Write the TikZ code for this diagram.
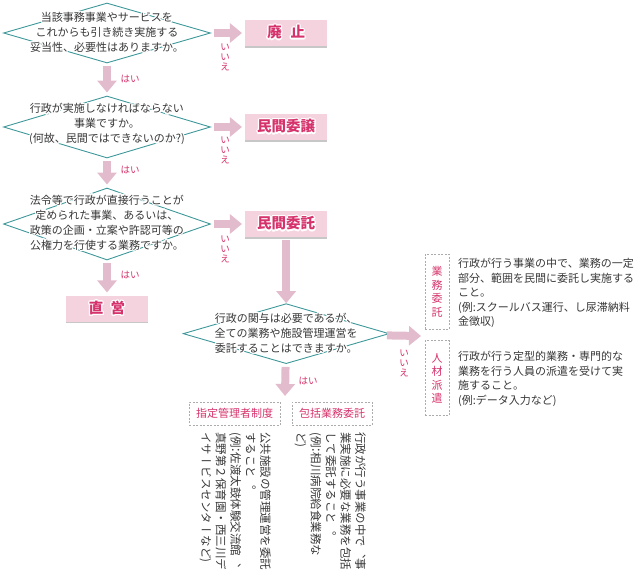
\documentclass[tikz,border=0pt]{standalone}
\usepackage{fontspec}
\setmainfont{Noto Sans CJK JP}
\newfontfamily\vjp[Vertical=RotatedGlyphs]{Noto Sans CJK JP}
\usepackage{contour}
\contourlength{1.2pt}
\usetikzlibrary{shapes.geometric,arrows.meta,positioning,shadows}
\definecolor{rose}{RGB}{214,51,108}
\definecolor{rosebox}{RGB}{245,211,222}
\definecolor{rosearr}{RGB}{226,188,204}
\definecolor{tealline}{RGB}{62,152,154}
\definecolor{ink}{RGB}{55,55,55}
\newcommand{\halo}[1]{\contour{white}{#1}}
\newcommand{\vcolon}{\hspace{-0.3em}：\hspace{-0.25em}}

\begin{document}
\begin{tikzpicture}[x=1pt, y=-1pt,
    question/.style={diamond, draw=tealline, line width=0.9pt, inner sep=0pt,
                     minimum width=207pt},
    qtext/.style={align=center, inner sep=0pt, text=ink,
                  font=\fontsize{11}{15}\selectfont},
    result/.style={fill=rosebox, minimum width=82pt, minimum height=26pt,
                   inner sep=0pt, text=rose, font=\fontsize{14.5}{16}\selectfont\bfseries,
                   drop shadow={shadow xshift=0pt, shadow yshift=-1.5pt, fill=black!22, opacity=1}},
    arr/.style={-{Triangle[width=19pt, length=12pt]}, rosearr, line width=8pt,
                shorten <=3pt, shorten >=3pt},
    yn/.style={text=rose, align=center, inner sep=0pt,
               font=\fontsize{9.5}{10}\selectfont},
    tagbox/.style={draw=gray!65, dash pattern=on 2pt off 1.5pt, line width=0.8pt,
                   text=rose, inner sep=0pt, font=\fontsize{11}{13.5}\selectfont},
    para/.style={align=left, anchor=north west, inner sep=0pt, text=ink,
                 font=\fontsize{11}{14.5}\selectfont},
    vpara/.style={rotate=-90, anchor=north west, align=left, inner sep=0pt, text=ink,
                  font=\vjp\fontsize{11.5}{14.8}\selectfont},
  ]
  \useasboundingbox (0,0) rectangle (638,574);

  \node[question, minimum height=60pt] (q1) at (107,33) {};
  \node[qtext] (t1) at (q1) {\halo{当該事務事業やサービスを}\\\halo{これからも引き続き実施する}\\\halo{妥当性、必要性はありますか。}};
  \node[result, right=34pt of q1] (haishi) {\halo{廃\hspace{0.6em}止}};

  \node[question, minimum height=62pt] (q2) at (107,127) {};
  \node[qtext] (t2) at (107,125) {\halo{行政が実施しなければならない}\\\halo{事業ですか。}\\\halo{(何故、民間ではできないのか?)}};
  \node[result, right=34pt of q2] (jouto) {\halo{民間委譲}};

  \node[question, minimum height=72pt] (q3) at (107,224) {};
  \node[qtext] (t3) at (107,223) {\halo{法令等で行政が直接行うことが}\\\halo{定められた事業、あるいは、}\\\halo{政策の企画・立案や許認可等の}\\\halo{公権力を行使する業務ですか。}};
  \node[result, right=34pt of q3] (itaku) {\halo{民間委託}};
  \node[result, below=35pt of q3] (chokuei) {\halo{直\hspace{0.5em}営}};

  \node[question, minimum width=206pt, minimum height=60pt, below=66pt of itaku] (q4) {};
  \node[qtext] (t4) at (q4) {\halo{行政の関与は必要であるが、}\\\halo{全ての業務や施設管理運営を}\\\halo{委託することはできますか。}};

  \coordinate (sideR) at (421,336);
  \coordinate (downB) at (285,396);

  \draw[arr] (q1) -- (haishi);
  \draw[arr] (q2) -- (jouto);
  \draw[arr] (q3) -- (itaku);
  \draw[arr] (q1) -- (q2);
  \draw[arr] (q2) -- (q3);
  \draw[arr] (q3) -- (chokuei);
  \draw[arr, shorten >=0pt] (itaku) -- (q4);
  \draw[arr, shorten >=0pt] (q4) -- (sideR);
  \draw[arr, shorten >=0pt] (q4) -- (downB);

  \node[yn] (no1) at (225,57) {い\\い\\え};
  \node[yn] (no2) at (225,150) {い\\い\\え};
  \node[yn] (no3) at (225,249) {い\\い\\え};
  \node[yn] (no4) at (404,363) {い\\い\\え};
  \node[yn] (yes1) at (130,79) {はい};
  \node[yn] (yes2) at (130,170) {はい};
  \node[yn] (yes3) at (130,275) {はい};
  \node[yn] (yes4) at (308,381) {はい};

  \node[tagbox, align=center, minimum width=24pt, minimum height=75pt] (gyomu) at (437,291.5) {業\\務\\委\\託};
  \node[tagbox, align=center, minimum width=24pt, minimum height=75pt, below=11pt of gyomu] (jinzai) {人\\材\\派\\遣};
  \node[para] (gyomutxt) at (458,258) {行政が行う事業の中で、業務の一定\\部分、範囲を民間に委託し実施する\\こと。\\(例:スクールバス運行、し尿滞納料\\金徴収)};
  \node[para] (jinzaitxt) at (458,351) {行政が行う定型的業務・専門的な\\業務を行う人員の派遣を受けて実\\施すること。\\(例:データ入力など)};

  \node[tagbox, minimum width=91pt, minimum height=23pt] (shitei) at (234.5,413.5) {指定管理者制度};
  \node[tagbox, minimum width=80pt, minimum height=23pt] (houkatsu) at (332,413.5) {包括業務委託};
  \node[vpara] (shiteitxt) at (271,432) {公共施設の管理運営を委託\\すること。\\(例\vcolon 佐渡太鼓体験交流館、\\真野第２保育園・西三川デ\\イサービスセンターなど)};
  \node[vpara] (houkatsutxt) at (366,432) {行政が行う事業の中で、事\\業実施に必要な業務を包括\\して委託すること。\\(例\vcolon 相川病院給食業務な\\ど)};
\end{tikzpicture}
\end{document}
